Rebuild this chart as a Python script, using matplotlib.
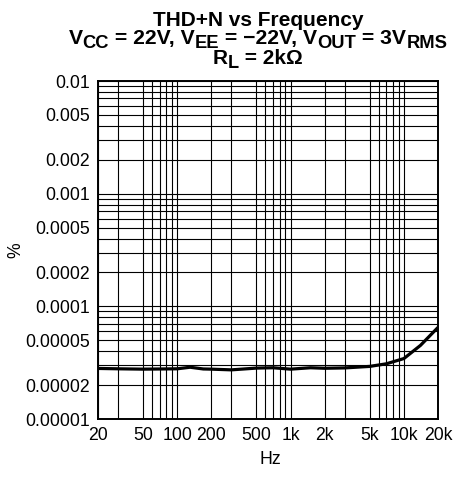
import matplotlib
matplotlib.use("Agg")
import matplotlib.pyplot as plt
from matplotlib.ticker import FixedLocator, NullFormatter
from matplotlib.transforms import IdentityTransform

plt.rcParams['font.family'] = ['Liberation Sans', 'DejaVu Sans']

# THD+N (%)
freq = [20, 30, 50, 100, 130, 170, 200, 300, 500, 700, 1000, 1500, 2000, 3000,
        5000, 7000, 10000, 14000, 20000]
thd = [2.81e-5, 2.79e-5, 2.77e-5, 2.79e-5, 2.88e-5, 2.78e-5, 2.77e-5, 2.73e-5,
       2.83e-5, 2.85e-5, 2.77e-5, 2.85e-5, 2.82e-5, 2.84e-5, 2.93e-5, 3.09e-5,
       3.44e-5, 4.5e-5, 6.5e-5]

x_major = [20, 50, 100, 200, 500, 1000, 2000, 5000, 10000, 20000]
x_labels = ['20', '50', '100', '200', '500', '1k', '2k', '5k', '10k', '20k']
x_minor = [30, 60, 70, 80, 90, 300, 600, 700, 800, 900,
           3000, 6000, 7000, 8000, 9000]
y_major = [1e-5, 2e-5, 5e-5, 1e-4, 2e-4, 5e-4, 1e-3, 2e-3, 5e-3, 1e-2]
y_labels = ['0.00001', '0.00002', '0.00005', '0.0001', '0.0002', '0.0005',
            '0.001', '0.002', '0.005', '0.01']
y_minor = [m * 10.0 ** e for e in (-5, -4, -3) for m in (3, 4, 6, 7, 8, 9)]

W, H = 456, 478
fig = plt.figure(figsize=(W / 100, H / 100), dpi=100)
ax = fig.add_axes([98 / W, 1 - 419 / H, 340 / W, 338 / H])

ax.plot(freq, thd, color='black', lw=2.3, solid_capstyle='butt', zorder=3)

ax.set_xscale('log')
ax.set_yscale('log')
ax.set_xlim(20, 20000)
ax.set_ylim(1e-5, 1e-2)

ax.xaxis.set_major_locator(FixedLocator(x_major))
ax.set_xticklabels(x_labels)
ax.xaxis.set_minor_locator(FixedLocator(x_minor))
ax.xaxis.set_minor_formatter(NullFormatter())
ax.yaxis.set_major_locator(FixedLocator(y_major))
ax.set_yticklabels(y_labels)
ax.yaxis.set_minor_locator(FixedLocator(y_minor))
ax.yaxis.set_minor_formatter(NullFormatter())

ax.tick_params(which='both', length=0, labelsize=12.7)
ax.tick_params(axis='x', pad=6)
ax.tick_params(axis='y', pad=6)
ax.grid(True, which='both', color='black', lw=0.8)
for s in ax.spines.values():
    s.set_linewidth(1.4)

ax.set_xlabel('Hz', fontsize=12.7, va='center')
ax.xaxis.set_label_coords((270 - 98) / 340, (419 - 459) / 338)
ax.set_ylabel('%', fontsize=12.7, va='center')
ax.yaxis.set_label_coords((16 - 98) / 340, 0.5)

# title lines built from pieces so the subscripts can be sized freely
renderer = fig.canvas.get_renderer()


def title_line(parts, y_top, size, cx=258):
    items = []
    for s, sub in parts:
        t = fig.text(0, 0, s, fontsize=size * 0.87 if sub else size,
                     fontweight='bold', ha='left', va='baseline',
                     transform=IdentityTransform())
        items.append((t, sub))
    widths = [t.get_window_extent(renderer).width for t, _ in items]
    x = cx - sum(widths) / 2
    base = H - y_top
    for (t, sub), w in zip(items, widths):
        t.set_position((x, base - 4 if sub else base))
        x += w


title_line([('THD+N vs Frequency', False)], 26, 15)
title_line([('V', False), ('CC', True), (' = 22V, V', False), ('EE', True),
            (' = \u221222V, V', False), ('OUT', True), (' = 3V', False),
            ('RMS', True)], 44, 15.2)
title_line([('R', False), ('L', True), (' = 2k\u03a9', False)], 64, 15)

fig.savefig('out.png', dpi=100)
